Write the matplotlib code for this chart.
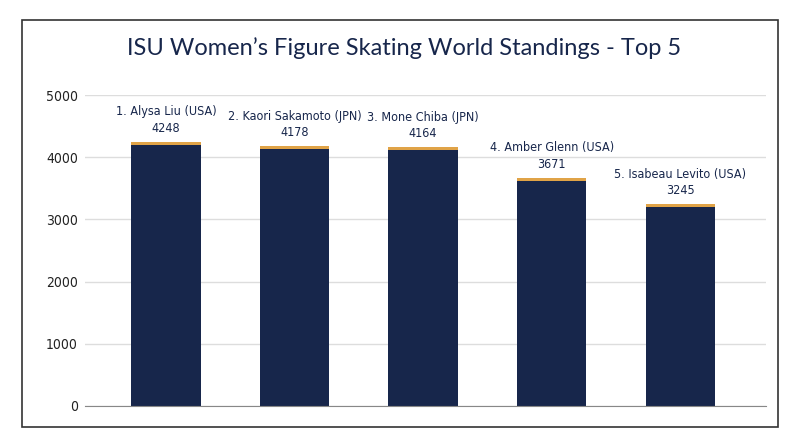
import matplotlib.pyplot as plt
from matplotlib.patches import Rectangle

skaters = ["1. Alysa Liu (USA)", "2. Kaori Sakamoto (JPN)", "3. Mone Chiba (JPN)",
           "4. Amber Glenn (USA)", "5. Isabeau Levito (USA)"]
points = [4248, 4178, 4164, 3671, 3245]

navy = "#17264b"
gold = "#e0a347"
cap = 45  # height of gold strip on top of each bar

plt.rcParams['font.family'] = ['DejaVu Sans']

fig = plt.figure(figsize=(8, 4.47), dpi=100)
ax = fig.add_axes([0.106, 0.092, 0.852, 0.695])

x = range(len(skaters))
body = [p - cap for p in points]
ax.bar(x, body, width=0.54, color=navy, zorder=2)
ax.bar(x, [cap] * len(points), bottom=body, width=0.54, color=gold, zorder=2)

for i, (name, p) in enumerate(zip(skaters, points)):
    ax.annotate(f"{name}\n{p}", (i, p), xytext=(0, 5), textcoords="offset points",
                ha="center", va="bottom", fontsize=9, color=navy, linespacing=1.35,
                fontstretch="condensed")

ax.set_xlim(-0.63, 4.67)
ax.set_ylim(0, 5000)
ax.set_yticks([0, 1000, 2000, 3000, 4000, 5000])
ax.set_xticks([])
ax.grid(axis="y", color="#dddddd", linewidth=1, zorder=0)
for s in ["top", "right", "left"]:
    ax.spines[s].set_visible(False)
ax.spines["bottom"].set_color("#888888")
ax.tick_params(axis="y", length=0, pad=5, labelcolor="#222222")
for t in ax.get_yticklabels():
    t.set_fontsize(10)
    t.set_fontstretch("condensed")

fig.text(0.505, 0.893, "ISU Women\u2019s Figure Skating World Standings - Top 5",
         ha="center", va="center", fontsize=17, color=navy, family=["Lato", "DejaVu Sans"])

fig.patches.append(Rectangle((0.028, 0.045), 0.944, 0.91, transform=fig.transFigure,
                             fill=False, edgecolor="#333333", linewidth=1.2))

fig.savefig("out.png", dpi=100)
